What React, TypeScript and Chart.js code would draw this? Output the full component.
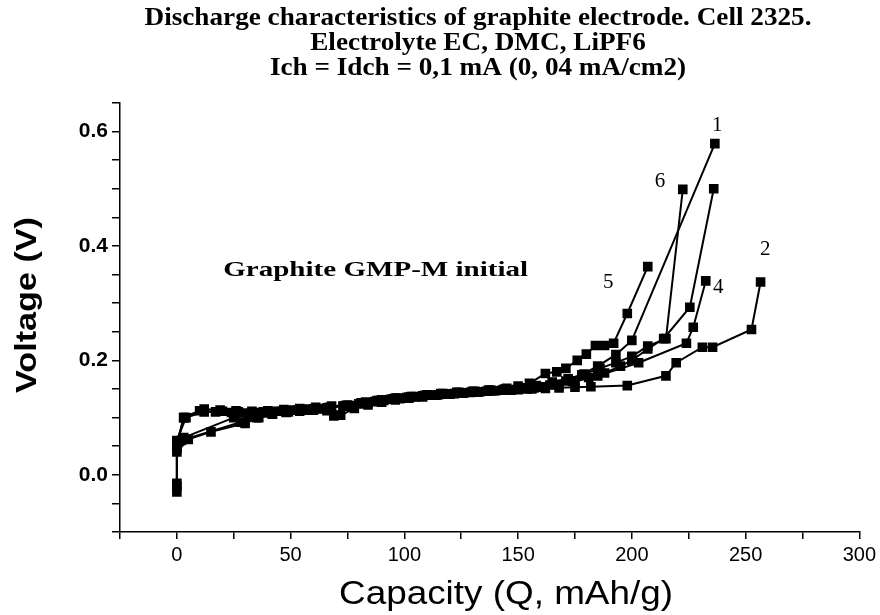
import React, { useEffect, useRef } from "react";
import { Chart, registerables } from "chart.js";

Chart.register(...registerables);

// ---- Data (capacity in mAh/g, voltage in V) ----
const cap1 = [0, 0, 3, 10, 17, 24, 31, 38, 45, 52, 59, 66, 73, 80, 87, 94, 101, 108, 115, 122, 129, 136, 143, 150, 157, 164, 171, 178, 185, 193, 200, 236.5];
const volt1 = [-0.03, 0.05, 0.1, 0.112, 0.11, 0.109, 0.108, 0.11, 0.111, 0.113, 0.115, 0.117, 0.12, 0.124, 0.128, 0.132, 0.135, 0.138, 0.14, 0.142, 0.144, 0.146, 0.148, 0.15, 0.152, 0.157, 0.164, 0.175, 0.19, 0.21, 0.235, 0.579];

const cap2 = [0, 0, 5, 15, 30, 36, 42, 48, 54, 60, 66, 72, 78, 84, 90, 96, 102, 108, 114, 120, 126, 132, 138, 144, 150, 156, 162, 168, 175, 182, 198, 215, 219.5, 231, 235.5, 252.6, 256.6];
const volt2 = [-0.02, 0.04, 0.062, 0.075, 0.09, 0.1, 0.106, 0.109, 0.111, 0.113, 0.112, 0.104, 0.116, 0.122, 0.127, 0.131, 0.134, 0.136, 0.139, 0.141, 0.143, 0.145, 0.147, 0.148, 0.149, 0.15, 0.151, 0.152, 0.153, 0.154, 0.156, 0.173, 0.196, 0.223, 0.223, 0.254, 0.337];

const cap3 = [0, 0, 4, 12, 20, 27, 34, 41, 48, 55, 62, 69, 76, 83, 90, 97, 104, 111, 118, 125, 132, 139, 146, 153, 160, 167, 174, 181, 188, 195, 200, 207, 214, 225.5, 236];
const volt3 = [0.045, 0.06, 0.1, 0.11, 0.111, 0.11, 0.109, 0.111, 0.113, 0.115, 0.116, 0.103, 0.121, 0.127, 0.131, 0.134, 0.137, 0.139, 0.141, 0.143, 0.145, 0.147, 0.149, 0.151, 0.154, 0.158, 0.163, 0.17, 0.178, 0.19, 0.2, 0.22, 0.238, 0.293, 0.5];

const cap4 = [0, 2, 28, 35, 42, 49, 56, 63, 70, 77, 84, 91, 98, 105, 112, 119, 126, 133, 140, 147, 154, 161, 168, 175, 185, 203, 224, 227, 232.5];
const volt4 = [0.05, 0.06, 0.092, 0.1, 0.106, 0.11, 0.113, 0.115, 0.104, 0.12, 0.126, 0.13, 0.133, 0.136, 0.139, 0.141, 0.143, 0.145, 0.147, 0.148, 0.15, 0.153, 0.157, 0.163, 0.173, 0.196, 0.23, 0.258, 0.339];

const cap5 = [0, 0, 3, 12, 19, 26, 33, 40, 47, 54, 61, 68, 75, 82, 89, 96, 103, 110, 117, 124, 131, 138, 145, 150, 155, 162, 167, 171, 176, 180, 184, 188, 192, 198, 207];
const volt5 = [-0.015, 0.055, 0.1, 0.115, 0.113, 0.112, 0.111, 0.112, 0.114, 0.116, 0.118, 0.12, 0.122, 0.126, 0.13, 0.134, 0.137, 0.14, 0.142, 0.144, 0.146, 0.148, 0.151, 0.155, 0.16, 0.177, 0.18, 0.186, 0.2, 0.211, 0.226, 0.226, 0.23, 0.282, 0.364];

const cap6 = [0, 3, 25, 32, 39, 46, 53, 60, 67, 74, 81, 88, 95, 102, 109, 116, 123, 130, 137, 144, 151, 158, 165, 172, 179, 186, 193, 200, 207, 215, 222.4];
const volt6 = [0.055, 0.065, 0.1, 0.104, 0.108, 0.111, 0.113, 0.115, 0.118, 0.121, 0.126, 0.13, 0.133, 0.136, 0.139, 0.142, 0.144, 0.146, 0.148, 0.15, 0.152, 0.156, 0.162, 0.168, 0.176, 0.186, 0.196, 0.207, 0.225, 0.238, 0.499];

const seriesCaps = [cap1, cap2, cap3, cap4, cap5, cap6];
const seriesVolts = [volt1, volt2, volt3, volt4, volt5, volt6];
const seriesNames = ["1", "2", "3", "4", "5", "6"];

// Curve number labels (placed in data coordinates)
const labelTexts = ["1", "6", "2", "5", "4"];
const labelCaps = [237.5, 212.4, 258.7, 189.6, 238];
const labelVolts = [0.61, 0.512, 0.394, 0.336, 0.327];

const noteText = "Graphite GMP-M initial";
const noteCap = 87.4;
const noteVolt = 0.358;

const titleLines = [
  "Discharge characteristics of graphite electrode. Cell 2325.",
  "Electrolyte EC, DMC, LiPF6",
  "Ich = Idch = 0,1 mA (0, 04 mA/cm2)",
];
const xTitle = "Capacity (Q, mAh/g)";
const yTitle = "Voltage (V)";

const xMin = -25, xMax = 300, xStep = 25, xMajor = 50;
const yMin = -0.1, yMax = 0.65, yStep = 0.05, yMajor = 0.2;

function drawStretched(ctx: CanvasRenderingContext2D, text: string, cx: number, cy: number, font: string, targetW: number | null, rotate = 0) {
  ctx.save();
  ctx.font = font;
  ctx.fillStyle = "#000";
  ctx.textAlign = "center";
  ctx.textBaseline = "middle";
  const w = ctx.measureText(text).width;
  const sx = targetW ? targetW / w : 1;
  ctx.translate(cx, cy);
  if (rotate) ctx.rotate(rotate);
  ctx.scale(sx, 1);
  ctx.fillText(text, 0, 0);
  ctx.restore();
}

const textPlugin = {
  id: "textPlugin",
  afterDraw(chart: any) {
    const ctx = chart.ctx as CanvasRenderingContext2D;
    const xs = chart.scales.x;
    const ys = chart.scales.y;
    const tFont = "bold 25px 'Liberation Serif', 'Times New Roman', serif";
    ctx.save();
    ctx.font = tFont;
    const sx = 667 / ctx.measureText(titleLines[0]).width;
    ctx.restore();
    const tY = [19, 44, 69];
    titleLines.forEach((line, i) => {
      ctx.save();
      ctx.font = tFont;
      const w = ctx.measureText(line).width * sx;
      ctx.restore();
      drawStretched(ctx, line, 478, tY[i], tFont, w);
    });
    drawStretched(ctx, xTitle, 506, 595, "33px 'Liberation Sans', Arial, sans-serif", 334);
    drawStretched(ctx, yTitle, 28, 305, "bold 30px 'Liberation Sans', Arial, sans-serif", 176, -Math.PI / 2);
    drawStretched(ctx, noteText, xs.getPixelForValue(noteCap), ys.getPixelForValue(noteVolt), "bold 22px 'Liberation Serif', 'Times New Roman', serif", 305);
    labelTexts.forEach((t, i) => {
      drawStretched(ctx, t, xs.getPixelForValue(labelCaps[i]), ys.getPixelForValue(labelVolts[i]), "21px 'Liberation Serif', 'Times New Roman', serif", null);
    });
  },
};

function isMultiple(v: number, m: number) {
  const r = v / m;
  return Math.abs(r - Math.round(r)) < 1e-6;
}

export default function App() {
  const ref = useRef<HTMLCanvasElement | null>(null);
  useEffect(() => {
    if (!ref.current) return;
    const datasets = seriesCaps.map((caps, i) => ({
      label: seriesNames[i],
      data: caps.map((c, j) => ({ x: c, y: seriesVolts[i][j] })),
      borderColor: "#000",
      backgroundColor: "#000",
      borderWidth: 2,
      pointStyle: "rect" as const,
      pointRadius: 6.8,
      pointBorderWidth: 0,
      pointBackgroundColor: "#000",
      showLine: true,
      tension: 0,
    }));
    const chart = new Chart(ref.current, {
      type: "scatter",
      data: { datasets },
      options: {
        animation: false,
        responsive: false,
        maintainAspectRatio: false,
        layout: { padding: { top: 103, right: 18, left: 0, bottom: 0 } },
        plugins: { legend: { display: false }, tooltip: { enabled: false }, title: { display: false } },
        scales: {
          x: {
            type: "linear",
            min: xMin,
            max: xMax,
            afterFit: (s: any) => { s.height = 83; },
            ticks: {
              stepSize: xStep,
              autoSkip: false,
              maxRotation: 0,
              padding: 4,
              color: "#000",
              font: { family: "'Liberation Sans', Arial, sans-serif", size: 20 },
              callback: (v: any) => (isMultiple(Number(v), xMajor) ? String(Math.round(Number(v))) : ""),
            },
            grid: { drawOnChartArea: false, drawTicks: true, tickLength: 7, color: "#000", lineWidth: 1.5 },
            border: { display: true, color: "#000", width: 1.5 },
          },
          y: {
            type: "linear",
            min: yMin,
            max: yMax,
            afterFit: (s: any) => { s.width = 120; },
            ticks: {
              stepSize: yStep,
              autoSkip: false,
              padding: 4,
              color: "#000",
              font: { family: "'Liberation Sans', Arial, sans-serif", size: 21, weight: "bold" },
              callback: (v: any) => (isMultiple(Number(v), yMajor) ? Number(v).toFixed(1) : ""),
            },
            grid: { drawOnChartArea: false, drawTicks: true, tickLength: 8, color: "#000", lineWidth: 1.5 },
            border: { display: true, color: "#000", width: 1.5 },
          },
        },
      },
      plugins: [textPlugin],
    });
    return () => chart.destroy();
  }, []);
  return (
    <div style={{ position: "fixed", left: 0, top: 0, width: 880, height: 615, background: "#fff" }}>
      <canvas ref={ref} width={880} height={615} style={{ width: 880, height: 615, display: "block" }} />
    </div>
  );
}
